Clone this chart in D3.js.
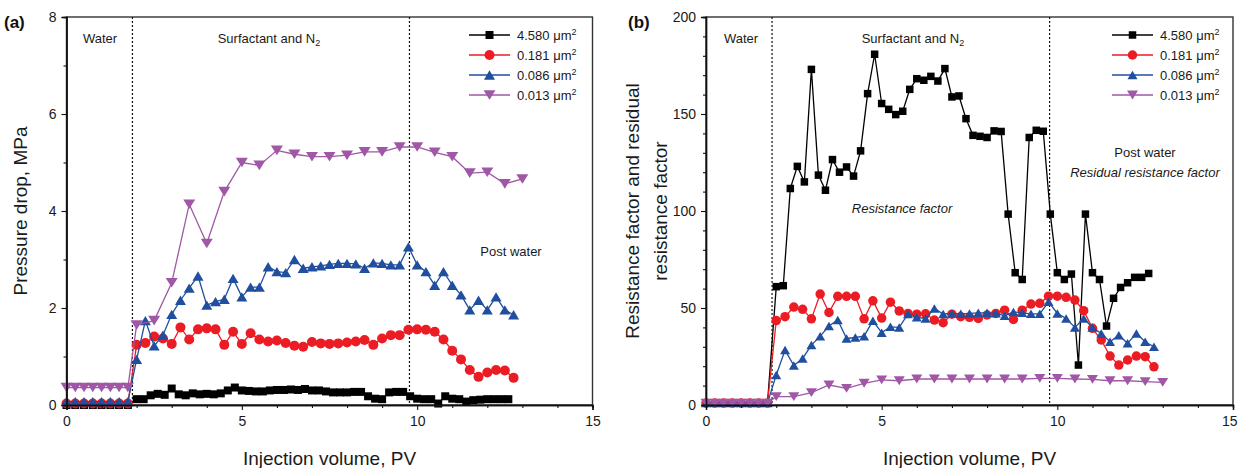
<!DOCTYPE html>
<html>
<head>
<meta charset="utf-8">
<script src="https://cdn.jsdelivr.net/npm/d3@7/dist/d3.min.js"></script>
<style>
  body { margin: 0; background: #fff; }
  svg { display: block; font-family: Arial, "Liberation Sans", sans-serif; }
</style>
</head>
<body>
<svg id="chart" width="1239" height="468"></svg>
<script>
// injection volume grids, PV
const waterPV = [0, 0.25, 0.5, 0.75, 1.0, 1.25, 1.5, 1.75];
const finePV = [2.0, 2.2, 2.4, 2.6, 2.8, 3.0, 3.2, 3.4, 3.6, 3.8, 4.0, 4.2, 4.4, 4.6, 4.8, 5.0, 5.2, 5.4,
  5.6, 5.8, 6.0, 6.2, 6.4, 6.6, 6.8, 7.0, 7.2, 7.4, 7.6, 7.8, 8.0, 8.2, 8.4, 8.6, 8.8, 9.0, 9.2, 9.4,
  9.6, 9.8, 10.0, 10.2, 10.4, 10.6, 10.8, 11.0, 11.2, 11.4, 11.6, 11.8, 12.0, 12.2, 12.4, 12.6];
const quarterPV = [2.0, 2.25, 2.5, 2.75, 3.0, 3.25, 3.5, 3.75, 4.0, 4.25, 4.5, 4.75, 5.0, 5.25, 5.5,
  5.75, 6.0, 6.25, 6.5, 6.75, 7.0, 7.25, 7.5, 7.75, 8.0, 8.25, 8.5, 8.75, 9.0, 9.25, 9.5, 9.75, 10.0,
  10.25, 10.5, 10.75, 11.0, 11.25, 11.5, 11.75, 12.0, 12.25, 12.5, 12.75];
const halfPV = [2.0, 2.5, 3.0, 3.5, 4.0, 4.5, 5.0, 5.5, 6.0, 6.5, 7.0, 7.5, 8.0, 8.5, 9.0, 9.5, 10.0,
  10.5, 11.0, 11.5, 12.0, 12.5, 13.0];

const permLabels = ['4.580', '0.181', '0.086', '0.013'];
const colors = ['#000000', '#ec1c24', '#1f4f9e', '#9f57a6'];
const phaseLines = [1.88, 9.78];

// (a) pressure drop, MPa
const dpWater4580 = [0, 0, 0, 0, 0, 0, 0, 0];
const dpWater0181 = [0.03, 0.03, 0.03, 0.03, 0.03, 0.03, 0.03, 0.03];
const dpWater0086 = [0.07, 0.07, 0.07, 0.07, 0.07, 0.07, 0.07, 0.07];
const dpWater0013 = [0.36, 0.36, 0.36, 0.36, 0.36, 0.36, 0.36, 0.36];
const dp4580 = [0.12, 0.12, 0.20, 0.23, 0.21, 0.34, 0.22, 0.20, 0.24, 0.22, 0.23, 0.22, 0.24, 0.30,
  0.36, 0.30, 0.29, 0.28, 0.28, 0.30, 0.31, 0.31, 0.32, 0.31, 0.33, 0.30, 0.30, 0.28, 0.26, 0.26,
  0.26, 0.27, 0.27, 0.18, 0.13, 0.12, 0.26, 0.27, 0.27, 0.18, 0.13, 0.12, 0.12, 0.03, 0.18, 0.13,
  0.12, 0.07, 0.10, 0.11, 0.12, 0.12, 0.12, 0.12];
const dp0181 = [1.24, 1.28, 1.41, 1.37, 1.26, 1.60, 1.35, 1.56, 1.58, 1.56, 1.24, 1.51, 1.26, 1.48,
  1.35, 1.31, 1.33, 1.28, 1.22, 1.20, 1.30, 1.27, 1.26, 1.27, 1.29, 1.31, 1.34, 1.24, 1.37, 1.44,
  1.44, 1.55, 1.56, 1.55, 1.51, 1.35, 1.12, 0.94, 0.72, 0.58, 0.67, 0.72, 0.71, 0.56];
const dp0086 = [0.94, 1.74, 1.22, 1.44, 1.87, 2.16, 2.41, 2.66, 2.06, 2.13, 2.18, 2.61, 2.23, 2.43,
  2.43, 2.85, 2.75, 2.73, 3.00, 2.82, 2.85, 2.87, 2.90, 2.92, 2.92, 2.91, 2.82, 2.93, 2.92, 2.89,
  2.89, 3.26, 2.89, 2.75, 2.47, 2.75, 2.47, 2.27, 1.96, 2.16, 1.96, 2.23, 1.96, 1.86];
const dp0013 = [1.65, 1.74, 2.52, 4.14, 3.33, 4.40, 5.00, 4.94, 5.25, 5.17, 5.12, 5.12, 5.15, 5.22,
  5.22, 5.32, 5.32, 5.21, 5.12, 4.78, 4.80, 4.56, 4.66];

// (b) resistance factor and residual resistance factor
const rfWater = [1, 1, 1, 1, 1, 1, 1, 1];
const rf4580 = [61, 61.5, 111.6, 123, 115, 173, 118.5, 110.7, 126.5, 120, 122.7, 118, 131, 160.5,
  180.8, 155.4, 152.4, 149.7, 151.4, 162.7, 168.2, 167.4, 169.4, 167, 173.4, 158.8, 159.3, 147.6,
  139, 138.5, 137.9, 141.3, 141, 98.4, 68.2, 64.7, 137.9, 141.6, 141.1, 98.4, 68.2, 64.7, 67.5,
  20.6, 98.4, 68.2, 64.7, 40.7, 55, 60.6, 63, 65.8, 65.8, 67.8];
const rf0181 = [43.5, 45.5, 50.5, 49.3, 44.4, 57.2, 47.7, 56, 56, 56, 44.4, 53.7, 44.8, 53, 48.5,
  47.2, 46.8, 47, 43.8, 42.4, 46.8, 45.5, 45.2, 44.6, 46.4, 47.2, 48.9, 44.1, 48.9, 52, 52.4, 56.1,
  56.1, 55.5, 54.1, 48.6, 39.5, 33.5, 25.2, 20.6, 23.2, 25.2, 24.9, 19.7];
const rf0086 = [15.5, 28.3, 20.3, 24, 30.9, 35.5, 40.7, 43.8, 34.3, 34.8, 35.5, 43.4, 37.3, 40.3, 40,
  46.9, 45.2, 44.6, 49.8, 46.9, 47.2, 47, 47.2, 47.5, 47.5, 47.3, 46, 48, 47.5, 47, 47, 53.2, 47.2,
  44.6, 40, 44.6, 40, 36.9, 32.6, 36, 31.8, 36.9, 32.6, 30];
const rf0013 = [4.3, 4.3, 6.4, 10.3, 8.6, 11.2, 12.9, 12.5, 13.4, 13.4, 13.4, 13.4, 13.4, 13.4, 13.4,
  13.7, 13.7, 13.4, 13.2, 12.5, 12.5, 12, 11.7];

const svg = d3.select('#chart');
const plotTop = 17, plotBottom = 405;

// marker shapes, size = width in px
const shapes = {
  square: { draw(c, w) { c.rect(-w / 2, -w / 2, w, w); } },
  circle: { draw(c, w) { c.moveTo(w / 2, 0); c.arc(0, 0, w / 2, 0, 2 * Math.PI); } },
  up: { draw(c, w) { const h = w * 0.85; c.moveTo(0, -h / 2); c.lineTo(w / 2, h / 2); c.lineTo(-w / 2, h / 2); c.closePath(); } },
  down: { draw(c, w) { const h = w * 0.8; c.moveTo(0, h / 2); c.lineTo(w / 2, -h / 2); c.lineTo(-w / 2, -h / 2); c.closePath(); } }
};
const shapeOrder = ['square', 'circle', 'up', 'down'];

const addText = (g, x, y, str, size, anchor) => g.append('text')
  .attr('x', x).attr('y', y).attr('font-size', size)
  .attr('text-anchor', anchor || 'middle').attr('fill', '#1a1a1a').text(str);

function drawPanel(cfg) {
  const g = svg.append('g');
  const x = d3.scaleLinear().domain([0, 15]).range([cfg.left, cfg.right]);
  const y = d3.scaleLinear().domain([0, cfg.yMax]).range([plotBottom, plotTop]);

  // frame (top / right)
  g.append('rect')
    .attr('x', cfg.left).attr('y', plotTop)
    .attr('width', cfg.right - cfg.left).attr('height', plotBottom - plotTop)
    .attr('fill', 'none').attr('stroke', '#333').attr('stroke-width', 1.4);

  // stage boundaries
  g.selectAll('.phase')
    .data(phaseLines)
    .join('line')
    .attr('x1', d => x(d)).attr('x2', d => x(d))
    .attr('y1', plotTop).attr('y2', plotBottom)
    .attr('stroke', '#111').attr('stroke-width', 1.2)
    .attr('stroke-dasharray', '2,2');

  // series
  const line = d3.line().x(d => x(d[0])).y(d => y(d[1]));
  cfg.series.forEach((s, i) => {
    const pts = s.x.map((v, j) => [v, s.y[j]]);
    g.append('path').datum(pts)
      .attr('d', line)
      .attr('fill', 'none').attr('stroke', colors[i]).attr('stroke-width', 1.3);
    g.append('g').selectAll('path')
      .data(pts)
      .join('path')
      .attr('transform', d => `translate(${x(d[0])},${y(d[1])})`)
      .attr('d', d3.symbol(shapes[shapeOrder[i]], cfg.sizes[i]))
      .attr('fill', colors[i]);
  });

  // axes
  const xAxis = g.append('g').attr('transform', `translate(0,${plotBottom})`)
    .call(d3.axisBottom(x).tickValues([0, 5, 10, 15]).tickSize(5).tickPadding(6));
  g.append('g').attr('transform', `translate(0,${plotBottom})`)
    .call(d3.axisBottom(x).tickValues(d3.range(1, 15).filter(v => v % 5)).tickSize(3).tickFormat(''));
  g.append('g').attr('transform', `translate(${cfg.left},0)`)
    .call(d3.axisLeft(y).tickValues(cfg.yMajor).tickSize(5).tickPadding(5));
  g.append('g').attr('transform', `translate(${cfg.left},0)`)
    .call(d3.axisLeft(y).tickValues(cfg.yMinor).tickSize(3).tickFormat(''));
  g.selectAll('.domain').attr('stroke', '#111').attr('stroke-width', 1.4);
  g.selectAll('.tick line').attr('stroke', '#111').attr('stroke-width', 1.1);
  g.selectAll('.tick text').attr('font-size', 14).attr('fill', '#1a1a1a')
    .attr('font-family', 'Arial, "Liberation Sans", sans-serif');
  // keep the last x label inside the page
  xAxis.selectAll('.tick text')
    .filter(d => x(d) + 9 > 1239)
    .attr('text-anchor', 'end').attr('x', 1237 - x(15));

  // axis titles
  addText(g, (cfg.left + cfg.right) / 2, 465, 'Injection volume, PV', 19);
  cfg.yTitle.forEach((t, k) => {
    g.append('text')
      .attr('transform', `translate(${cfg.yTitleX[k]},${(plotTop + plotBottom) / 2}) rotate(-90)`)
      .attr('font-size', 19).attr('text-anchor', 'middle').attr('fill', '#1a1a1a')
      .text(t);
  });

  // panel label
  g.append('text').attr('x', cfg.labelX).attr('y', 28)
    .attr('font-size', 17).attr('font-weight', 'bold').attr('fill', '#111').text(cfg.label);

  // stage annotations
  addText(g, cfg.waterX, 43, 'Water', 13);
  const surf = addText(g, cfg.surfX, 43, 'Surfactant and N', 13);
  surf.append('tspan').attr('font-size', 9).attr('dy', 3).text('2');
  cfg.notes.forEach(n => {
    addText(g, n.x, n.y, n.text, 13).attr('font-style', n.italic ? 'italic' : null);
  });

  // legend
  const leg = g.append('g');
  permLabels.forEach((lab, i) => {
    const ly = 35 + 20 * i;
    leg.append('line')
      .attr('x1', cfg.legX).attr('x2', cfg.legX + 41)
      .attr('y1', ly).attr('y2', ly)
      .attr('stroke', colors[i]).attr('stroke-width', 1.3);
    leg.append('path')
      .attr('transform', `translate(${cfg.legX + 20.5},${ly})`)
      .attr('d', d3.symbol(shapes[shapeOrder[i]], cfg.sizes[i]))
      .attr('fill', colors[i]);
    const t = addText(leg, cfg.legX + 48, ly + 4.5, `${lab} μm`, 13, 'start');
    t.append('tspan').attr('font-size', 9).attr('dy', -5).text('2');
  });
}

drawPanel({
  left: 66.5, right: 592.5, yMax: 8,
  yMajor: [0, 2, 4, 6, 8], yMinor: [1, 3, 5, 7],
  sizes: [8, 10, 11, 12],
  series: [
    { x: waterPV.concat(finePV), y: dpWater4580.concat(dp4580) },
    { x: waterPV.concat(quarterPV), y: dpWater0181.concat(dp0181) },
    { x: waterPV.concat(quarterPV), y: dpWater0086.concat(dp0086) },
    { x: waterPV.concat(halfPV), y: dpWater0013.concat(dp0013) }
  ],
  yTitle: ['Pressure drop, MPa'], yTitleX: [27],
  label: '(a)', labelX: 4,
  waterX: 100, surfX: 269,
  notes: [{ x: 511, y: 256, text: 'Post water' }],
  legX: 469
});

drawPanel({
  left: 706, right: 1233, yMax: 200,
  yMajor: [0, 50, 100, 150, 200], yMinor: d3.range(10, 200, 10).filter(v => v % 50),
  sizes: [7.5, 9.5, 10, 11],
  series: [
    { x: waterPV.concat(finePV), y: rfWater.concat(rf4580) },
    { x: waterPV.concat(quarterPV), y: rfWater.concat(rf0181) },
    { x: waterPV.concat(quarterPV), y: rfWater.concat(rf0086) },
    { x: waterPV.concat(halfPV), y: rfWater.concat(rf0013) }
  ],
  yTitle: ['Resistance factor and residual', 'resistance factor'], yTitleX: [639, 667],
  label: '(b)', labelX: 628,
  waterX: 741, surfX: 913,
  notes: [
    { x: 1145, y: 157, text: 'Post water' },
    { x: 1145, y: 177, text: 'Residual resistance factor', italic: true },
    { x: 902, y: 213, text: 'Resistance factor', italic: true }
  ],
  legX: 1112
});
</script>
</body>
</html>
